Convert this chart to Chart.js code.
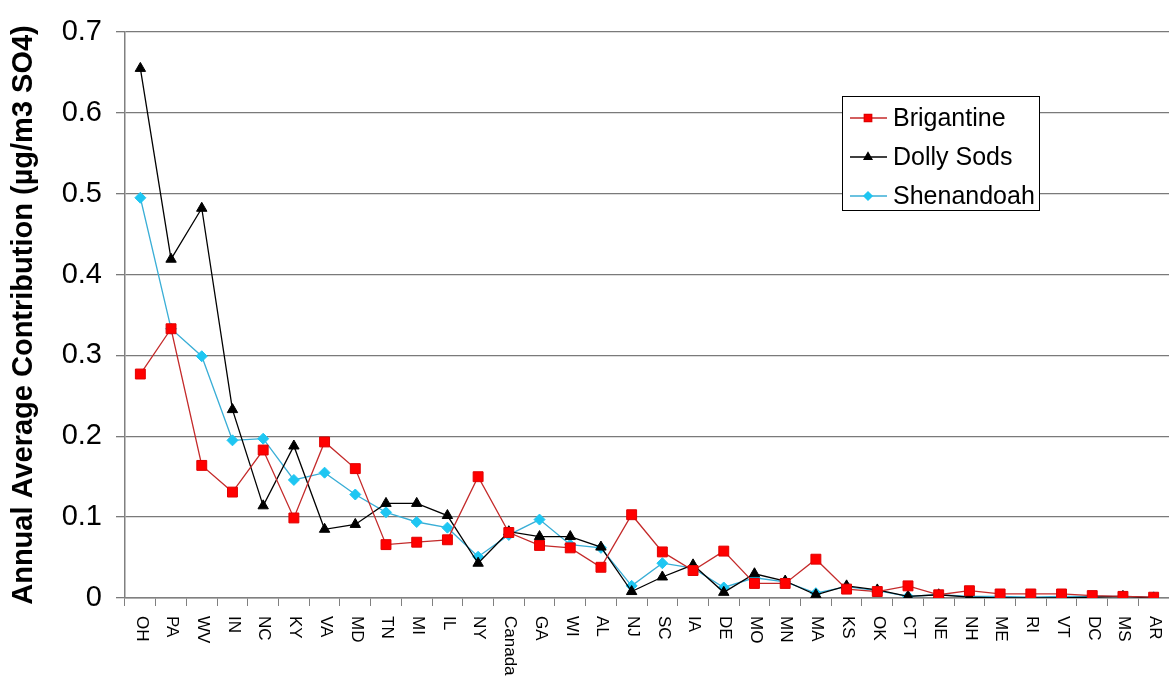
<!DOCTYPE html>
<html>
<head>
<meta charset="utf-8">
<script src="https://cdn.jsdelivr.net/npm/chart.js@4/dist/chart.umd.min.js"></script>
<style>
  html, body { margin: 0; padding: 0; background: #fff; }
  #wrap { width: 1169px; height: 690px; position: relative; }
</style>
</head>
<body>
<div id="wrap"><canvas id="chart"></canvas></div>
<script>
// source regions along the x axis
const categories = ["OH", "PA", "WV", "IN", "NC", "KY", "VA", "MD", "TN", "MI", "IL", "NY",
  "Canada", "GA", "WI", "AL", "NJ", "SC", "IA", "DE", "MO", "MN", "MA", "KS", "OK", "CT",
  "NE", "NH", "ME", "RI", "VT", "DC", "MS", "AR"];

// annual average contribution, ug/m3 SO4
const brigantine = [0.277, 0.333, 0.164, 0.131, 0.183, 0.099, 0.193, 0.160, 0.066, 0.069, 0.072, 0.150,
  0.081, 0.065, 0.062, 0.038, 0.103, 0.057, 0.034, 0.058, 0.018, 0.018, 0.048, 0.011, 0.008, 0.015,
  0.004, 0.009, 0.005, 0.005, 0.005, 0.003, 0.002, 0.001];
const dollySods = [0.655, 0.419, 0.482, 0.233, 0.114, 0.188, 0.085, 0.091, 0.117, 0.117, 0.102, 0.043,
  0.082, 0.076, 0.076, 0.063, 0.008, 0.026, 0.041, 0.007, 0.030, 0.021, 0.004, 0.015, 0.010, 0.002,
  0.004, 0.001, 0.000, 0.000, 0.000, 0.001, 0.002, 0.000];
const shenandoah = [0.495, 0.333, 0.299, 0.195, 0.197, 0.146, 0.155, 0.128, 0.106, 0.094, 0.087, 0.051,
  0.078, 0.097, 0.066, 0.062, 0.015, 0.043, 0.037, 0.013, 0.025, 0.020, 0.006, 0.014, 0.009, 0.002,
  0.004, 0.002, 0.002, 0.001, 0.002, 0.002, 0.002, 0.001];

const yTickLabels = ["0", "0.1", "0.2", "0.3", "0.4", "0.5", "0.6", "0.7"];

const FONT = "'Liberation Sans', Arial, sans-serif";

// x labels read top-to-bottom (turned clockwise), so draw them ourselves
const xLabelPlugin = {
  id: "xLabels",
  afterDraw(chart) {
    const ctx = chart.ctx;
    const xs = chart.scales.x;
    ctx.save();
    ctx.font = "17px " + FONT;
    ctx.fillStyle = "#000";
    ctx.textAlign = "left";
    ctx.textBaseline = "middle";
    categories.forEach((c, i) => {
      ctx.save();
      ctx.translate(xs.getPixelForTick(i) + 1, xs.top + 18);
      ctx.rotate(Math.PI / 2);
      ctx.fillText(c, 0, 0);
      ctx.restore();
    });
    ctx.restore();
  }
};

// boxed legend inside the plot, like the original
const legendPlugin = {
  id: "boxLegend",
  afterDraw(chart) {
    const ctx = chart.ctx;
    const x0 = 842, y0 = 96, w = 197, h = 114;
    ctx.save();
    ctx.fillStyle = "#fff";
    ctx.fillRect(x0, y0, w, h);
    ctx.strokeStyle = "#000";
    ctx.lineWidth = 1;
    ctx.strokeRect(x0 + 0.5, y0 + 0.5, w, h);
    ctx.font = "25px " + FONT;
    ctx.textBaseline = "middle";
    ctx.textAlign = "left";
    chart.data.datasets.forEach((ds, i) => {
      const y = y0 + 22 + i * 39;
      ctx.strokeStyle = ds.borderColor;
      ctx.lineWidth = 1.3;
      ctx.beginPath();
      ctx.moveTo(x0 + 8, y);
      ctx.lineTo(x0 + 45, y);
      ctx.stroke();
      ctx.fillStyle = ds.pointBackgroundColor;
      ctx.strokeStyle = ds.pointBorderColor;
      Chart.helpers.drawPoint(ctx, {
        pointStyle: ds.pointStyle, radius: ds.pointRadius * 0.75, borderWidth: 1, rotation: 0
      }, x0 + 26, y);
      ctx.fillStyle = "#000";
      ctx.fillText(ds.label, x0 + 51, y + 1);
    });
    ctx.restore();
  }
};

new Chart(document.getElementById("chart"), {
  type: "line",
  data: {
    labels: categories,
    datasets: [
      {
        label: "Brigantine",
        data: brigantine,
        borderColor: "#c42a2a",
        borderWidth: 1.3,
        pointStyle: "rect",
        pointRadius: 7,
        pointBackgroundColor: "#ff0000",
        pointBorderColor: "#e00000",
        pointBorderWidth: 1
      },
      {
        label: "Dolly Sods",
        data: dollySods,
        borderColor: "#000000",
        borderWidth: 1.3,
        pointStyle: "triangle",
        pointRadius: 6,
        pointBackgroundColor: "#000000",
        pointBorderColor: "#000000",
        pointBorderWidth: 1
      },
      {
        label: "Shenandoah",
        data: shenandoah,
        borderColor: "#3aaed6",
        borderWidth: 1.3,
        pointStyle: "rectRot",
        pointRadius: 5.5,
        pointBackgroundColor: "#1ec6f2",
        pointBorderColor: "#1ec6f2",
        pointBorderWidth: 1
      }
    ]
  },
  options: {
    responsive: true,
    maintainAspectRatio: false,
    animation: false,
    layout: { autoPadding: false, padding: { top: 32, right: 0, left: 0, bottom: 0 } },
    plugins: {
      legend: { display: false },
      tooltip: { enabled: false }
    },
    scales: {
      x: {
        offset: true,
        afterFit: (s) => { s.height = 92; s.paddingRight = 0; s.paddingLeft = 0; },
        grid: {
          offset: true,
          drawOnChartArea: false,
          drawTicks: true,
          tickLength: 8,
          color: "#808080"
        },
        border: { color: "#808080", width: 1.5 },
        ticks: {
          autoSkip: false,
          minRotation: 90,
          maxRotation: 90,
          color: "rgba(0,0,0,0)",
          font: { family: FONT, size: 17 }
        }
      },
      y: {
        min: 0,
        max: 0.7,
        afterFit: (s) => { s.width = 125; },
        grid: { color: "#7a7a7a", lineWidth: 1.3, tickLength: 9 },
        border: { color: "#808080", width: 1.5 },
        ticks: {
          stepSize: 0.1,
          padding: 14,
          color: "#000",
          font: { family: FONT, size: 29 },
          callback: (v, i) => yTickLabels[i]
        },
        title: {
          display: true,
          text: "Annual Average Contribution (µg/m3 SO4)",
          color: "#000",
          font: { family: FONT, size: 29, weight: "bold" },
          padding: { top: 7, bottom: 0 }
        }
      }
    }
  },
  plugins: [xLabelPlugin, legendPlugin]
});
</script>
</body>
</html>
